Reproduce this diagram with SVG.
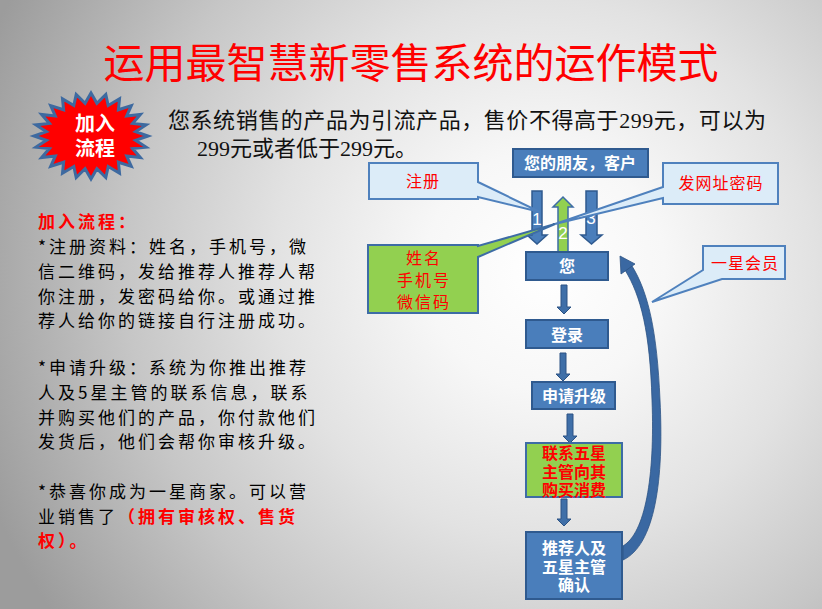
<svg xmlns="http://www.w3.org/2000/svg" width="822" height="609" viewBox="0 0 822 609">
<defs>
<radialGradient id="bg" cx="545" cy="270" r="600" gradientUnits="userSpaceOnUse">
<stop offset="0" stop-color="#ffffff"/>
<stop offset="0.2" stop-color="#f7f7f7"/>
<stop offset="0.45" stop-color="#e2e2e2"/>
<stop offset="0.7" stop-color="#c6c6c6"/>
<stop offset="1" stop-color="#9c9c9c"/>
</radialGradient>
<style>
.cjk{font-family:"Noto Sans CJK SC",sans-serif}
.tight{font-family:"Liberation Sans","Noto Sans CJK SC",sans-serif}
.box{fill:#4a7ebb;stroke:#2f5a8f;stroke-width:2}
.gbox{fill:#92d050;stroke:#3d6ca5;stroke-width:2}
.call{fill:#dcecf8;stroke:#4f81bd;stroke-width:2}
.wt{fill:#ffffff;font-weight:bold;font-size:16px;text-anchor:middle}
.rt{fill:#ff0000;font-size:16px;text-anchor:middle}
.arr{fill:#4a7ebb;stroke:#2f5a8f;stroke-width:1.5}
.sarr{fill:#3f6fa8;stroke:#2c5384;stroke-width:1}
.num{fill:#ffffff;font-family:"Liberation Sans",sans-serif;font-size:17px;text-anchor:middle}
.body{font-family:"Noto Sans CJK SC",sans-serif;font-size:17px;letter-spacing:3px;fill:#000000}
</style>
</defs>
<rect width="822" height="609" fill="url(#bg)"/>

<text class="cjk" x="411" y="78" font-size="41" fill="#ff0000" text-anchor="middle">运用最智慧新零售系统的运作模式</text>

<g id="burst">
<polygon points="148,136 135.6,140.3 146.1,147.1 132.6,148.6 140.4,157.5 126.7,156.1 131.3,166.4 118.4,162.2 119.5,173.2 108.2,166.5 105.8,177.5 96.9,168.7 91,179 85.1,168.7 76.2,177.5 73.8,166.5 62.5,173.2 63.6,162.2 50.7,166.4 55.3,156.1 41.6,157.5 49.4,148.6 35.9,147.1 46.4,140.3 34,136 46.4,131.7 35.9,124.9 49.4,123.4 41.6,114.5 55.3,115.9 50.7,105.6 63.6,109.8 62.5,98.8 73.8,105.5 76.2,94.5 85.1,103.3 91,93 96.9,103.3 105.8,94.5 108.2,105.5 119.5,98.8 118.4,109.8 131.3,105.6 126.7,115.9 140.4,114.5 132.6,123.4 146.1,124.9 135.6,131.7" fill="#ff0000" stroke="#3e6aa0" stroke-width="3" stroke-linejoin="miter"/>
<text class="tight" font-size="20" font-weight="bold" fill="#ffffff" text-anchor="middle"><tspan x="95" y="131">加入</tspan><tspan x="95" y="156">流程</tspan></text>
</g>

<g id="intro" font-family="'Liberation Serif','Noto Sans CJK SC',serif" font-size="22" fill="#111111">
<text x="168" y="128" textLength="598" lengthAdjust="spacing">您系统销售的产品为引流产品，售价不得高于299元，可以为</text>
<text x="197" y="156">299元或者低于299元。</text>
</g>

<g id="left-text" class="body">
<text x="38" y="228" fill="#ff0000" font-weight="bold">加入流程：</text>
<text x="38" y="253">*注册资料：姓名，手机号，微</text>
<text x="38" y="278">信二维码，发给推荐人推荐人帮</text>
<text x="38" y="303">你注册，发密码给你。或通过推</text>
<text x="38" y="327">荐人给你的链接自行注册成功。</text>
<text x="38" y="374">*申请升级：系统为你推出推荐</text>
<text x="38" y="399">人及5星主管的联系信息，联系</text>
<text x="38" y="424">并购买他们的产品，你付款他们</text>
<text x="38" y="448">发货后，他们会帮你审核升级。</text>
<text x="38" y="498">*恭喜你成为一星商家。可以营</text>
<text x="38" y="523">业销售了<tspan fill="#ff0000" font-weight="bold">（拥有审核权、售货</tspan></text>
<text x="38" y="547" fill="#ff0000" font-weight="bold">权）。</text>
</g>

<g id="connectors">
<path class="arr" d="M532 191 H542 V235 H547 L537 244 L527 235 H532 Z"/>
<path class="arr" d="M586 191 H597 V235 H602 L591.5 244 L581 235 H586 Z"/>
<path d="M558 252 V207 H553 L563 197 L573 207 H568 V252 Z" fill="#92d050" stroke="#3d6ca5" stroke-width="1.5"/>
<text class="num" x="537" y="225">1</text>
<text class="num" x="563" y="239">2</text>
<text class="num" x="591" y="224">3</text>
<path class="sarr" d="M561 285 H567 V307 H571 L564 314 L557 307 H561 Z"/>
<path class="sarr" d="M560 353 H566 V374 H570 L563 381 L556 374 H560 Z"/>
<path class="sarr" d="M567 414 H573 V436 H577 L570 443 L563 436 H567 Z"/>
<path class="sarr" d="M561 499 H567 V519 H571 L564 526 L557 519 H561 Z"/>
<path d="M623 560 C655 545 664 480 660 400 C657 330 648 292 632 266 L625 270 C641 296 650 332 652 400 C655 478 645 533 623 546 Z" fill="#3a68a2" stroke="#2c5384" stroke-width="0.8"/>
<polygon points="620,256 635,264 621,274" fill="#3a68a2" stroke="#2c5384" stroke-width="0.8"/>
</g>

<g id="friend">
<rect class="box" x="513" y="149" width="135" height="28"/>
<text class="cjk wt" x="580" y="169" font-size="15">您的朋友，客户</text>
</g>

<g id="you">
<rect class="box" x="526" y="252" width="82" height="28"/>
<text class="cjk wt" x="567" y="272">您</text>
</g>

<g id="login">
<rect class="box" x="526" y="320" width="82" height="28"/>
<text class="cjk wt" x="567" y="341" font-size="17">登录</text>
</g>

<g id="upgrade">
<rect class="box" x="532" y="382" width="83" height="27"/>
<text class="cjk wt" x="574" y="402">申请升级</text>
</g>

<g id="contact">
<rect class="gbox" x="526" y="443" width="96" height="54"/>
<text class="tight" fill="#ff0000" font-weight="bold" font-size="16" text-anchor="middle"><tspan x="574" y="459">联系五星</tspan><tspan x="574" y="478">主管向其</tspan><tspan x="574" y="496">购买消费</tspan></text>
</g>

<g id="confirm">
<rect class="box" x="526" y="532" width="96" height="67"/>
<text class="tight wt"><tspan x="574" y="554">推荐人及</tspan><tspan x="574" y="573">五星主管</tspan><tspan x="574" y="591">确认</tspan></text>
</g>

<g id="callout-register">
<path class="call" d="M369 163 H478 V182 L540 212 L478 197 V199 H369 Z"/>
<text class="cjk rt" x="423" y="187" font-size="15" letter-spacing="1">注册</text>
</g>

<g id="callout-info">
<path class="gbox" d="M368 245 H478 V246 L555 224 L478 257 V313 H368 Z"/>
<text class="cjk rt" letter-spacing="2"><tspan x="424" y="264">姓名</tspan><tspan x="424" y="286">手机号</tspan><tspan x="424" y="308">微信码</tspan></text>
</g>

<g id="callout-password">
<path class="call" d="M663 163 H778 V204 H663 V198 L555 224 L663 187 Z"/>
<text class="cjk rt" x="721" y="189" letter-spacing="1">发网址密码</text>
</g>

<g id="callout-member">
<path class="call" d="M703 246 H785 V279 H722 L652 302 L703 270 Z"/>
<text class="cjk rt" x="745" y="269" font-size="15" letter-spacing="1">一星会员</text>
</g>
</svg>
